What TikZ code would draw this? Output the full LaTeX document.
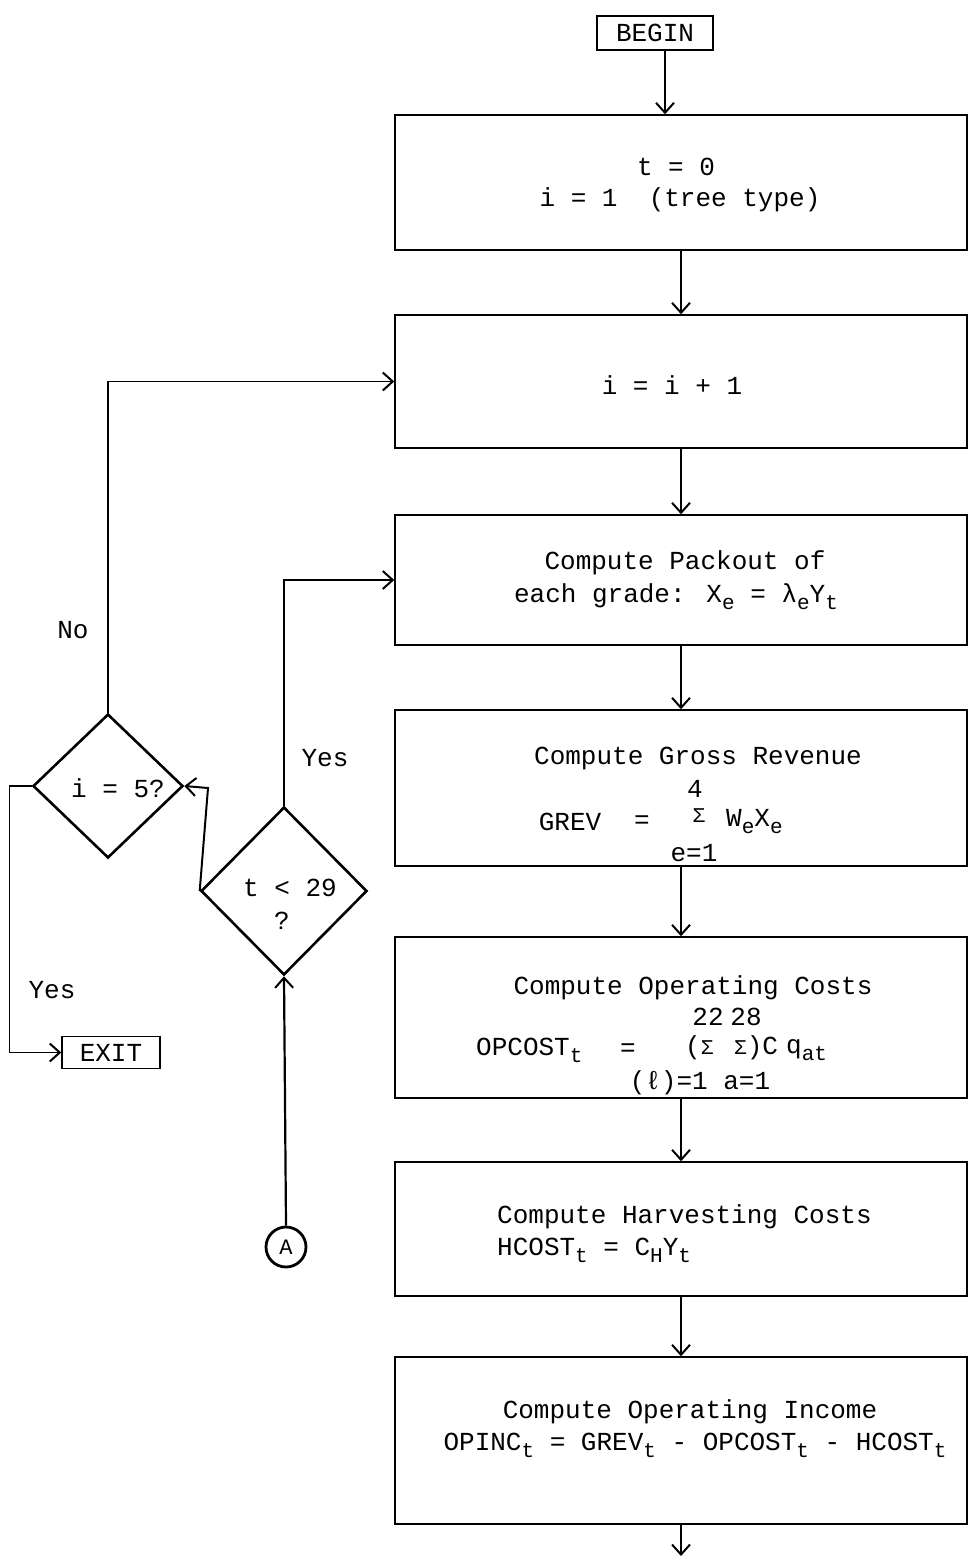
\documentclass[tikz,border=0pt]{standalone}
\usepackage{fontspec}
\setmainfont{Liberation Mono}
\usetikzlibrary{shapes.geometric,arrows.meta}
\newcommand\dn[1]{\raisebox{-7pt}{\fontsize{21}{21}\selectfont #1}}
\newcommand\sig{{\fontsize{21}{21}\selectfont Σ}}
\begin{document}
\begin{tikzpicture}[x=1pt,y=-1pt,
  every node/.style={font=\fontsize{26}{30}\selectfont, inner sep=0pt},
  box/.style={draw, line width=1.5pt, rectangle},
  dia/.style={draw, diamond, line width=2.6pt, aspect=1},
  arr/.style={line width=1.5pt, -{Straight Barb[length=10pt,width=18pt,line width=2pt]}},
  ln/.style={line width=1.5pt}]
\useasboundingbox (0,0) rectangle (969,1558);

% process boxes
\node[box, minimum width=116pt, minimum height=34pt] (begin) at (655,33) {BEGIN};
\node[box, minimum width=572pt, minimum height=135pt] (b1) at (681,182.5) {};
\node[box, minimum width=572pt, minimum height=133pt] (b2) at (681,381.5) {};
\node[box, minimum width=572pt, minimum height=130pt] (b3) at (681,580) {};
\node[box, minimum width=572pt, minimum height=156pt] (b4) at (681,788) {};
\node[box, minimum width=572pt, minimum height=161pt] (b5) at (681,1017.5) {};
\node[box, minimum width=572pt, minimum height=134pt] (b6) at (681,1229) {};
\node[box, minimum width=572pt, minimum height=167pt] (b7) at (681,1440.5) {};
\coordinate (end) at (683,1556);

% texts in boxes
\node (t1a) at (676,167) {t = 0};
\node (t1b) at (680,200) {i = 1\ \ (tree type)};
\node (t2) at (672,385) {i = i + 1};
\node (t3a) at (685,563) {Compute Packout of};
\node (t3b) at (676,597) {each grade: X\dn{e} = λ\dn{e}Y\dn{t}};
\node (t4a) at (698,758) {Compute Gross Revenue};
\node (t4b) at (695,789) {4};
\node (t4c) at (570,822) {GREV};
\node (t4d) at (642,822) {=};
\node (t4e) at (699,816) {\sig};
\node[anchor=west] (t4f) at (726,822) {W\dn{e}X\dn{e}};
\node (t4g) at (694,853) {e=1};
\node (t5a) at (693,988) {Compute Operating Costs};
\node (t5b) at (708,1017) {22};
\node (t5c) at (746,1017) {28};
\node[anchor=west] (t5d) at (476,1050) {OPCOST\dn{t}};
\node (t5e) at (628,1050) {=};
\node[anchor=west] (t5f) at (685,1048) {(\sig};
\node[anchor=west] (t5g) at (734,1048) {\sig)C};
\node[anchor=west] (t5h) at (786,1050) {q\dn{at}};
\node (t5i) at (700,1083) {(ℓ)=1\ a=1};
\node[anchor=west] (t6a) at (497,1217) {Compute Harvesting Costs};
\node[anchor=west] (t6b) at (497,1250) {HCOST\dn{t} = C\dn{H}Y\dn{t}};
\node (t7a) at (690,1412) {Compute Operating Income};
\node (t7b) at (695,1445) {OPINC\dn{t} = GREV\dn{t} - OPCOST\dn{t} - HCOST\dn{t}};

% decisions
\node[dia, minimum width=150pt, minimum height=144pt] (d1) at (108,786) {};
\node (d1t) at (118,788) {i = 5?};
\node[dia, minimum width=166pt, minimum height=168pt] (d2) at (284,891) {};
\node (d2t) at (290,888) {t < 29};
\node (d2q) at (282,921) {?};
\coordinate (k) at (208,788);

\node[box, minimum width=98pt, minimum height=32pt] (exit) at (111,1052.5) {EXIT};
\node[draw, circle, line width=2.8pt, minimum size=40pt, font=\fontsize{22}{22}\selectfont] (A) at (286,1247) {A};

% labels
\node (no) at (73,630) {No};
\node (yes1) at (325,758) {Yes};
\node (yes2) at (52,990) {Yes};

% connectors
\draw[arr] ([xshift=10pt]begin.south) -- ([xshift=10pt]begin.south |- b1.north);
\draw[arr] (b1.south) -- (b2.north);
\draw[arr] (b2.south) -- (b3.north);
\draw[arr] (b3.south) -- (b4.north);
\draw[arr] (b4.south) -- (b5.north);
\draw[arr] (b5.south) -- (b6.north);
\draw[arr] (b6.south) -- (b7.north);
\draw[arr] (b7.south) -- (b7.south |- end);
\draw[arr] (d1.north) |- (b2.west);
\draw[arr] (d2.north) |- (b3.west);
\draw[arr, line width=2pt] (d2.west) -- (k) -- (d1.east);
\draw[arr] (d1.west) -- ++(-22,0) |- (exit.west);
\draw[arr, line width=2.2pt] (A.north) -- (d2.south);
\end{tikzpicture}
\end{document}
